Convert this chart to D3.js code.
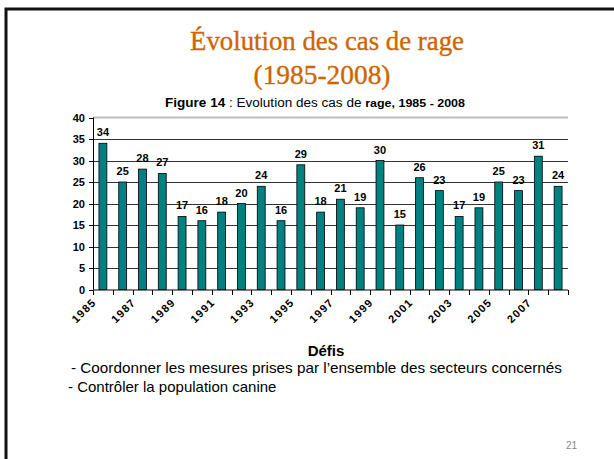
<!DOCTYPE html>
<html><head><meta charset="utf-8">
<script src="https://cdn.jsdelivr.net/npm/d3@7"></script>
<style>
html,body{margin:0;padding:0;background:#fff;}
svg{display:block;}
</style></head>
<body>
<script>
const years = [1985,1986,1987,1988,1989,1990,1991,1992,1993,1994,1995,1996,1997,1998,1999,2000,2001,2002,2003,2004,2005,2006,2007,2008];
const cases = [34,25,28,27,17,16,18,20,24,16,29,18,21,19,30,15,26,23,17,19,25,23,31,24];
const yTicks = [0,5,10,15,20,25,30,35,40];
const xLabelYears = [1985,1987,1989,1991,1993,1995,1997,1999,2001,2003,2005,2007];
const bullets = ["- Coordonner les mesures prises par l\u2019ensemble des secteurs concernés","- Contrôler la population canine"];

const W=614,H=459;
const svg=d3.select("body").append("svg").attr("width",W).attr("height",H);
svg.append("rect").attr("width",W).attr("height",H).attr("fill","#fff");
// slide border
svg.append("path").attr("d","M6,"+(H+5)+" L6,9 L"+(W+5)+",9").attr("fill","none").attr("stroke","#111").attr("stroke-width",3);

const serif="'Liberation Serif','Times New Roman',serif";
const sans="'Liberation Sans',Arial,sans-serif";
// title
svg.append("text").attr("x",327).attr("y",50).attr("text-anchor","middle")
  .attr("font-family",serif).attr("font-size",28).attr("fill","#CC6600")
  .attr("stroke","#CC6600").attr("stroke-width",0.35)
  .attr("textLength",274).attr("lengthAdjust","spacingAndGlyphs")
  .text("Évolution des cas de rage");
svg.append("text").attr("x",322).attr("y",84).attr("text-anchor","middle")
  .attr("font-family",serif).attr("font-size",28).attr("fill","#CC6600")
  .attr("stroke","#CC6600").attr("stroke-width",0.35)
  .attr("textLength",137).attr("lengthAdjust","spacingAndGlyphs")
  .text("(1985-2008)");

// figure subtitle
const sub=svg.append("text").attr("x",315).attr("y",107).attr("text-anchor","middle")
  .attr("font-family",sans).attr("font-size",12.5).attr("fill","#000")
  .attr("textLength",300).attr("lengthAdjust","spacingAndGlyphs");
sub.append("tspan").attr("font-weight","bold").text("Figure 14");
sub.append("tspan").text("  : Evolution des cas de ");
sub.append("tspan").attr("font-weight","bold").attr("font-size",11.5).text("rage, 1985 - 2008");

// scales
const x=d3.scaleBand().domain(years).range([93,568]).paddingInner(0).paddingOuter(0);
const y=d3.scaleLinear().domain([0,40]).range([289.5,117.5]);

// gridlines
svg.append("g").selectAll("line").data(yTicks.filter(d=>d>0&&d<40)).join("line")
  .attr("x1",93).attr("x2",568).attr("y1",d=>Math.round(y(d))+0.5).attr("y2",d=>Math.round(y(d))+0.5)
  .attr("stroke","#333").attr("stroke-width",1);
svg.append("line").attr("x1",93).attr("x2",568).attr("y1",y(40)).attr("y2",y(40))
  .attr("stroke","#bdbdbd").attr("stroke-width",2);

// bars
const bw=x.bandwidth()*0.4;
svg.append("g").selectAll("rect").data(years).join("rect")
  .attr("x",(d)=>x(d)+x.bandwidth()/2-bw/2).attr("width",bw)
  .attr("y",(d,i)=>y(cases[i])).attr("height",(d,i)=>y(0)-y(cases[i]))
  .attr("fill","#008080").attr("stroke","#000").attr("stroke-width",0.8);

// bar labels
svg.append("g").selectAll("text").data(years).join("text")
  .attr("x",d=>x(d)+x.bandwidth()/2).attr("y",(d,i)=>y(cases[i])-7)
  .attr("text-anchor","middle").attr("font-family",sans).attr("font-weight","bold").attr("font-size",11)
  .text((d,i)=>cases[i]);

// y axis
svg.append("line").attr("x1",93.5).attr("x2",93.5).attr("y1",y(40)).attr("y2",y(0)).attr("stroke","#000");
svg.append("g").selectAll("line").data(yTicks).join("line")
  .attr("x1",89).attr("x2",93.5).attr("y1",d=>Math.round(y(d))+0.5).attr("y2",d=>Math.round(y(d))+0.5).attr("stroke","#000");
svg.append("g").selectAll("text").data(yTicks).join("text")
  .attr("x",85).attr("y",d=>y(d)+4).attr("text-anchor","end")
  .attr("font-family",sans).attr("font-weight","bold").attr("font-size",11).text(d=>d);

// x axis
svg.append("line").attr("x1",93).attr("x2",568).attr("y1",290).attr("y2",290).attr("stroke","#000");
svg.append("g").selectAll("line").data(years.concat([null])).join("line")
  .attr("x1",(d,i)=>Math.round(93+i*x.step())+0.5).attr("x2",(d,i)=>Math.round(93+i*x.step())+0.5)
  .attr("y1",290).attr("y2",295).attr("stroke","#000");
svg.append("g").selectAll("text").data(xLabelYears).join("text")
  .attr("transform",d=>"translate("+(x(d)+x.bandwidth()/2-6)+",303) rotate(-45)")
  .attr("text-anchor","end").attr("font-family",sans).attr("font-weight","bold").attr("font-size",11)
  .attr("letter-spacing",1.2).text(d=>d);

// axis title
svg.append("text").attr("x",326).attr("y",356).attr("text-anchor","middle")
  .attr("font-family",sans).attr("font-weight","bold").attr("font-size",15).text("Défis");

// bullet text
svg.append("text").attr("x",71).attr("y",373).attr("font-family",sans).attr("font-size",15)
  .attr("textLength",491).attr("lengthAdjust","spacingAndGlyphs").text(bullets[0]);
svg.append("text").attr("x",68).attr("y",392).attr("font-family",sans).attr("font-size",15).text(bullets[1]);

// page number
svg.append("text").attr("x",577).attr("y",449).attr("text-anchor","end")
  .attr("font-family",sans).attr("font-size",10).attr("fill","#888").text("21");
</script>
</body></html>
